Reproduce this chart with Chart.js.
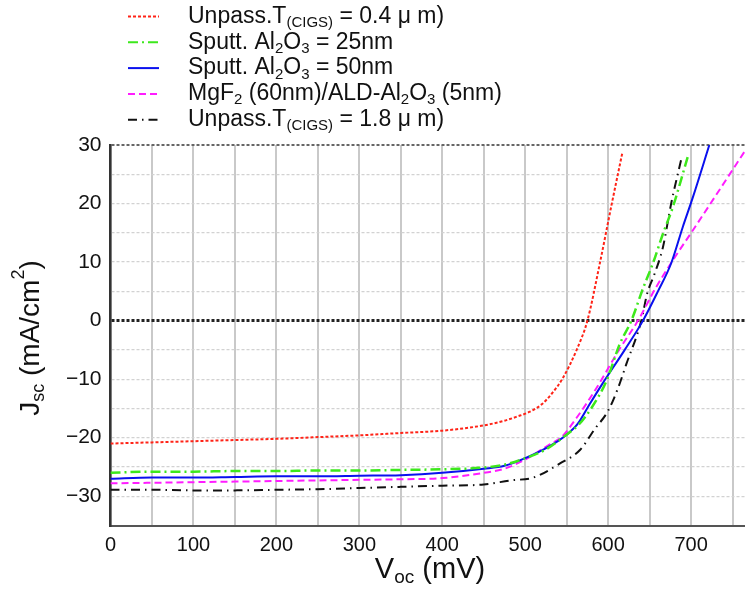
<!DOCTYPE html>
<html>
<head>
<meta charset="utf-8">
<script src="https://cdn.jsdelivr.net/npm/chart.js@4/dist/chart.umd.min.js"></script>
<style>
  body { margin: 0; background: #fff; }
</style>
</head>
<body>
<canvas id="myChart" width="745" height="590"></canvas>
<script>
// J-V curves, voltage in mV, current density in mA/cm2
var redV = [0, 50, 100, 150, 200, 250, 300, 350, 400, 450, 475, 490, 505, 520, 533, 545, 562, 575, 590, 604, 617];
var redJ = [-21, -20.8, -20.6, -20.4, -20.2, -19.9, -19.6, -19.2, -18.8, -17.9, -17.1, -16.4, -15.6, -14.3, -12.3, -9.9, -5, 0, 9.8, 19.7, 28.6];

var greenV = [0, 50, 100, 150, 200, 250, 300, 350, 400, 450, 475, 500, 525, 545, 565, 580, 598, 614, 628, 642, 654, 666, 678, 696];
var greenJ = [-26, -25.8, -25.8, -25.7, -25.7, -25.6, -25.6, -25.5, -25.4, -25.1, -24.6, -23.5, -22, -20, -17.7, -14.9, -10.3, -4, 0, 5.5, 9.8, 14.8, 19.4, 28];

var blueV = [0, 50, 100, 150, 200, 250, 300, 350, 400, 450, 475, 500, 530, 548, 563, 578, 593, 620, 642, 660, 676, 690, 702, 722];
var blueJ = [-27, -26.8, -26.8, -26.7, -26.6, -26.6, -26.5, -26.4, -26, -25.3, -24.8, -23.5, -21.4, -19.7, -17.7, -14.2, -10.8, -5, 0, 5, 9.8, 16, 21, 30];

var magentaV = [0, 50, 100, 150, 200, 250, 300, 350, 400, 450, 475, 503, 530, 543, 562, 586, 614, 636, 657, 678, 702, 735, 765];
var magentaJ = [-27.8, -27.7, -27.6, -27.5, -27.4, -27.3, -27.2, -27.1, -26.9, -26, -25.3, -23.5, -21.1, -20, -16.6, -11.5, -4.8, 0, 5.5, 10.3, 15.4, 22.5, 29];

var blackV = [0, 50, 100, 150, 200, 250, 300, 350, 400, 450, 482, 510, 542, 566, 584, 600, 612, 622, 640, 647, 656, 666, 676, 688];
var blackJ = [-28.9, -28.9, -29, -29, -28.9, -28.8, -28.6, -28.4, -28.2, -28, -27.3, -26.8, -24.4, -22.1, -18.5, -15.4, -11.5, -7.4, 0, 4.6, 8, 12.5, 20, 27.5];

// legend labels as rich text pieces: [text, 'n' | 'sub' | 'sup']
var labels = [
  [['Unpass.T', 'n'], ['(CIGS)', 'sub'], [' = 0.4 \u03bc m)', 'n']],
  [['Sputt. Al', 'n'], ['2', 'sub'], ['O', 'n'], ['3', 'sub'], [' = 25nm', 'n']],
  [['Sputt. Al', 'n'], ['2', 'sub'], ['O', 'n'], ['3', 'sub'], [' = 50nm', 'n']],
  [['MgF', 'n'], ['2', 'sub'], [' (60nm)/ALD-Al', 'n'], ['2', 'sub'], ['O', 'n'], ['3', 'sub'], [' (5nm)', 'n']],
  [['Unpass.T', 'n'], ['(CIGS)', 'sub'], [' = 1.8 \u03bc m)', 'n']]
];
var xTitle = [['V', 'n'], ['oc', 'sub'], [' (mV)', 'n']];
var yTitle = [['J', 'n'], ['sc', 'sub'], [' (mA/cm', 'n'], ['2', 'sup'], [')', 'n']];

function pts(xs, ys) {
  return xs.map(function (v, i) { return { x: v, y: ys[i] }; });
}

var FONT = '"Liberation Sans", Arial, sans-serif';

function richWidth(ctx, parts, size) {
  var w = 0;
  parts.forEach(function (p) {
    ctx.font = (p[1] === 'n' ? size : Math.round(size * 0.64)) + 'px ' + FONT;
    w += ctx.measureText(p[0]).width;
  });
  return w;
}

function drawRich(ctx, parts, x, y, size) {
  parts.forEach(function (p) {
    var s = p[1] === 'n' ? size : Math.round(size * 0.64);
    var dy = p[1] === 'sub' ? size * 0.28 : (p[1] === 'sup' ? -size * 0.42 : 0);
    ctx.font = s + 'px ' + FONT;
    ctx.fillText(p[0], x, y + dy);
    x += ctx.measureText(p[0]).width;
  });
}

var textPlugin = {
  id: 'textPlugin',
  afterDraw: function (chart) {
    var ctx = chart.ctx;
    ctx.save();
    ctx.fillStyle = '#111';
    ctx.textBaseline = 'middle';
    ctx.textAlign = 'left';
    // legend
    chart.data.datasets.forEach(function (ds, i) {
      var y = 16.5 + i * 25.8;
      ctx.save();
      ctx.strokeStyle = ds.borderColor;
      ctx.lineWidth = 2;
      ctx.setLineDash(ds.borderDash || []);
      ctx.beginPath();
      ctx.moveTo(128, y);
      ctx.lineTo(159, y);
      ctx.stroke();
      ctx.restore();
      drawRich(ctx, labels[i], 188, y, 23);
    });
    // x title
    var w = richWidth(ctx, xTitle, 29);
    drawRich(ctx, xTitle, 430 - w / 2, 570, 29);
    // y title
    ctx.save();
    ctx.translate(31, 338);
    ctx.rotate(-Math.PI / 2);
    w = richWidth(ctx, yTitle, 28);
    drawRich(ctx, yTitle, -w / 2, 0, 28);
    ctx.restore();
    ctx.restore();
  }
};

var ctx = document.getElementById('myChart');
var myChart = new Chart(ctx, {
  type: 'line',
  data: {
    datasets: [
      { data: pts(redV, redJ), borderColor: '#ff2418', borderWidth: 2, borderDash: [3, 2] },
      { data: pts(greenV, greenJ), borderColor: '#3de81c', borderWidth: 2.5, borderDash: [10, 4, 2, 4] },
      { data: pts(blueV, blueJ), borderColor: '#0a10ee', borderWidth: 2, borderDash: [] },
      { data: pts(magentaV, magentaJ), borderColor: '#ff1cff', borderWidth: 2, borderDash: [7, 4] },
      { data: pts(blackV, blackJ), borderColor: '#111111', borderWidth: 2, borderDash: [9, 5, 1.5, 5] }
    ]
  },
  options: {
    responsive: false,
    animation: false,
    layout: { padding: { top: 145, left: 0, right: 0, bottom: 0 } },
    elements: { point: { radius: 0 }, line: { cubicInterpolationMode: 'monotone', fill: false } },
    plugins: { legend: { display: false }, tooltip: { enabled: false } },
    scales: {
      x: {
        type: 'linear',
        min: 0,
        max: 765,
        afterFit: function (s) { s.height = 64.5; },
        afterBuildTicks: function (s) {
          var t = [];
          for (var v = 0; v <= 750; v += 50) t.push({ value: v });
          s.ticks = t;
        },
        ticks: {
          autoSkip: false,
          maxRotation: 0,
          padding: 8,
          color: '#111',
          font: { family: FONT, size: 20 },
          callback: function (v) { return v % 100 === 0 ? String(v) : ''; }
        },
        grid: { color: '#c9c9c9', lineWidth: 2, drawTicks: false },
        border: { color: '#555', width: 2 }
      },
      y: {
        min: -35,
        max: 30,
        afterFit: function (s) { s.width = 110.5; },
        ticks: {
          stepSize: 5,
          padding: 9,
          color: '#111',
          font: { family: FONT, size: 21 },
          callback: function (v) {
            if (v % 10 !== 0) return '';
            return v < 0 ? '\u2212' + Math.abs(v) : String(v);
          }
        },
        grid: {
          drawTicks: false,
          color: function (c) {
            var v = c.tick.value;
            if (v === 0) return '#222';
            if (v === 30 || v === -35) return '#666';
            return '#d2d2d2';
          },
          lineWidth: function (c) {
            var v = c.tick.value;
            if (v === 0) return 3;
            if (v === 30 || v === -35) return 2;
            return 1.2;
          }
        },
        border: { color: '#333', width: 2.5, dash: [3, 2] }
      }
    }
  },
  plugins: [textPlugin]
});
</script>
</body>
</html>
